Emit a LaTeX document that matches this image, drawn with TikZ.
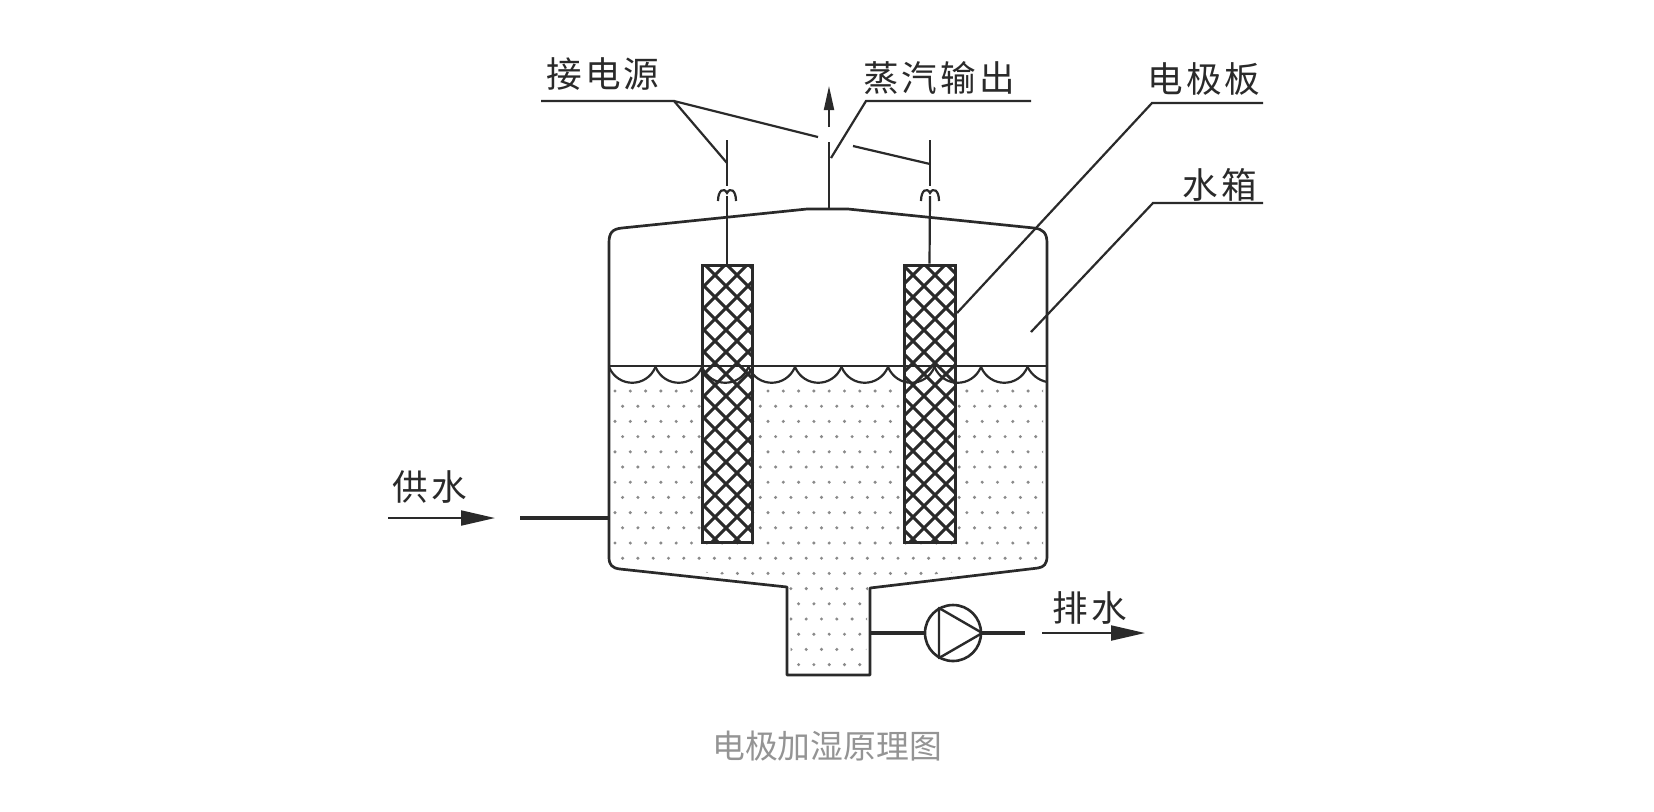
\documentclass[tikz,border=0pt]{standalone}
\usepackage{fontspec}
\usepackage{tikz}
\usetikzlibrary{arrows.meta}
\newfontfamily\cjklabel[LetterSpace=9]{Noto Sans CJK SC}
\newfontfamily\cjkcap{Noto Sans CJK SC}
\definecolor{ink}{HTML}{2A2A2A}
\definecolor{capgray}{HTML}{949494}
\definecolor{dotgray}{HTML}{8A8A8A}
\tikzset{
  every picture/.style={x=0.5pt,y=-0.5pt},
  wall/.style={draw=ink,line width=1.35pt,line join=round},
  thinline/.style={draw=ink,line width=1.1pt},
  pipe/.style={draw=ink,line width=1.7pt},
  leader/.style={draw=ink,line width=1.1pt},
  lab/.style={font=\cjklabel\fontsize{17.8}{20}\selectfont,text=ink,inner sep=0pt,anchor=center},
  flow/.style={draw=ink,line width=1pt,-{Triangle[length=17pt,width=7.5pt]}},
  captext/.style={font=\cjkcap\fontsize{16.4}{18}\selectfont,text=capgray,inner sep=0pt},
  electrode/.style={draw=ink,line width=1.5pt,fill=white},
  hatch/.style={draw=ink,line width=1.5pt},
}
\newcommand{\hatchplate}[4]{%
  \begin{scope}
    \clip (#1,#3) rectangle (#2,#4);
    \foreach \k in {-20,...,20}{
      \pgfmathsetmacro{\cc}{374+22*\k}
      \draw[hatch] (\cc+#3-200,#3-200) -- (\cc+#4+200,#4+200);
      \pgfmathsetmacro{\dd}{1100+22*\k}
      \draw[hatch] (\dd-#3+200,#3-200) -- (\dd-#4-200,#4+200);
    }
  \end{scope}}
\newcommand{\socket}[1]{%
  \draw[thinline] (#1-9,201) .. controls (#1-9,190) and (#1-3,187) .. (#1,193)
     .. controls (#1+3,187) and (#1+9,190) .. (#1+9,201);}
\begin{document}
\begin{tikzpicture}
\useasboundingbox (0,0) rectangle (1654,811);
\fill[white] (0,0) rectangle (1654,811);

% dots of water
\begin{scope}
  \clip (613,385) -- (1043,385) -- (1043,562) -- (868,582) -- (866,669) -- (791,669) -- (789,582) -- (613,562) -- cycle;
  \foreach \r in {0,...,18}{
    \pgfmathsetmacro{\yy}{391+15.2*\r}
    \pgfmathsetmacro{\ofs}{mod(\r,2)*7.6}
    \foreach \c in {0,...,28}{
      \fill[dotgray] ({615+\ofs+15.3*\c},\yy) circle (1.7);
    }
  }
\end{scope}

% vessel
\draw[wall] (609,243) .. controls (609,233) and (612,229) .. (622,228)
  -- (807,209) -- (848,209) -- (1034,228)
  .. controls (1043,229) and (1047,233) .. (1047,243)
  -- (1047,556) .. controls (1047,564) and (1044,567) .. (1038,568)
  -- (870,588) -- (870,675) -- (787,675) -- (787,587) -- (620,569)
  .. controls (612,568) and (609,565) .. (609,557) -- cycle;

% electrodes
\node[electrode,minimum width=25pt,minimum height=138.5pt,inner sep=0pt] (plateL) at (727,403.5) {};
\node[electrode,minimum width=25.5pt,minimum height=138.5pt,inner sep=0pt] (plateR) at (929.5,403.5) {};
\hatchplate{702}{752}{265}{542}
\hatchplate{904}{955}{265}{542}
\node[electrode,fill=none,minimum width=25pt,minimum height=138.5pt,inner sep=0pt] at (727,403.5) {};
\node[electrode,fill=none,minimum width=25.5pt,minimum height=138.5pt,inner sep=0pt] at (929.5,403.5) {};

% water surface
\draw[thinline] (609,366) -- (1047,366);
\foreach \a in {609,655.5,702,748.5,795,841.5,888,934.5,981}{
  \draw[thinline] (\a,367) .. controls ({\a+9},388) and ({\a+37.5},388) .. ({\a+46.5},367);
}
\draw[thinline] (1027.5,367) .. controls (1032,375) and (1038,380) .. (1047,382);

% terminals
\coordinate (socketL) at (727,196);
\coordinate (socketR) at (930,196);
\coordinate (termLtop) at (727,140);
\coordinate (termLbot) at (727,186);
\coordinate (termRtop) at (930,140);
\coordinate (termRbot) at (930,186);
\draw[thinline] (plateL.north) -- (socketL);
\draw[thinline] (plateR.north) -- (socketR);
\draw[thinline] (termLtop) -- (termLbot);
\draw[thinline] (termRtop) -- (termRbot);
\socket{727}
\socket{930}

% steam pipe and arrow
\coordinate (steamBase) at (829,209);
\coordinate (steamTop) at (829,142);
\coordinate (steamArrowA) at (829,127);
\coordinate (steamArrowB) at (829,86);
\draw[thinline] (steamBase) -- (steamTop);
\draw[draw=ink,line width=1pt,-{Triangle[length=12pt,width=5pt]}] (steamArrowA) -- (steamArrowB);

% labels
\node[lab] (power) at (603,74) {接电源};
\node[lab] (steam) at (939,78) {蒸汽输出};
\node[lab] (plateLabel) at (1204,79) {电极板};
\node[lab] (tankLabel) at (1220,185) {水箱};
\node[lab] (supply) at (430,487) {供水};
\node[lab] (drain) at (1090,608) {排水};
\node[captext] (caption) at (827,746) {电极加湿原理图};

% leaders
\coordinate (powerA) at (541,101);
\coordinate (powerB) at (674,101);
\coordinate (powerL) at (727,163);
\coordinate (powerM) at (818,137);
\coordinate (powerN) at (853,146);
\coordinate (powerR) at (930,164);
\draw[leader] (powerA) -- (powerB) -- (powerL);
\draw[leader] (powerB) -- (powerM);
\draw[leader] (powerN) -- (powerR);
\coordinate (steamA) at (1031,101);
\coordinate (steamB) at (866,101);
\coordinate (steamC) at (831,158);
\draw[leader] (steamA) -- (steamB) -- (steamC);
\coordinate (plateA) at (1263,103);
\coordinate (plateB) at (1152,103);
\coordinate (plateC) at (957,313);
\draw[leader] (plateA) -- (plateB) -- (plateC);
\coordinate (tankA) at (1263,203);
\coordinate (tankB) at (1153,203);
\coordinate (tankC) at (1031,332);
\draw[leader] (tankA) -- (tankB) -- (tankC);

% supply
\coordinate (supA) at (388,518);
\coordinate (supB) at (495,518);
\coordinate (supPipe) at (520,518);
\coordinate (supWall) at (609,518);
\draw[flow] (supA) -- (supB);
\draw[pipe] (supPipe) -- (supWall);

% pump and drain
\node[draw=ink,line width=1.3pt,circle,minimum size=28pt,inner sep=0pt,fill=white] (pump) at (953,633) {};
\coordinate (spoutOut) at (870,633);
\coordinate (pumpOut) at (1025,633);
\coordinate (drainA) at (1042,633);
\coordinate (drainB) at (1145,633);
\coordinate (pumpTa) at (939,608);
\coordinate (pumpTb) at (939,658);
\draw[pipe] (spoutOut) -- (pump.west);
\draw[pipe] (pump.east) -- (pumpOut);
\draw[draw=ink,line width=1.2pt,line join=round] (pumpTa) -- (pump.east) -- (pumpTb) -- cycle;
\draw[flow] (drainA) -- (drainB);
\end{tikzpicture}
\end{document}
